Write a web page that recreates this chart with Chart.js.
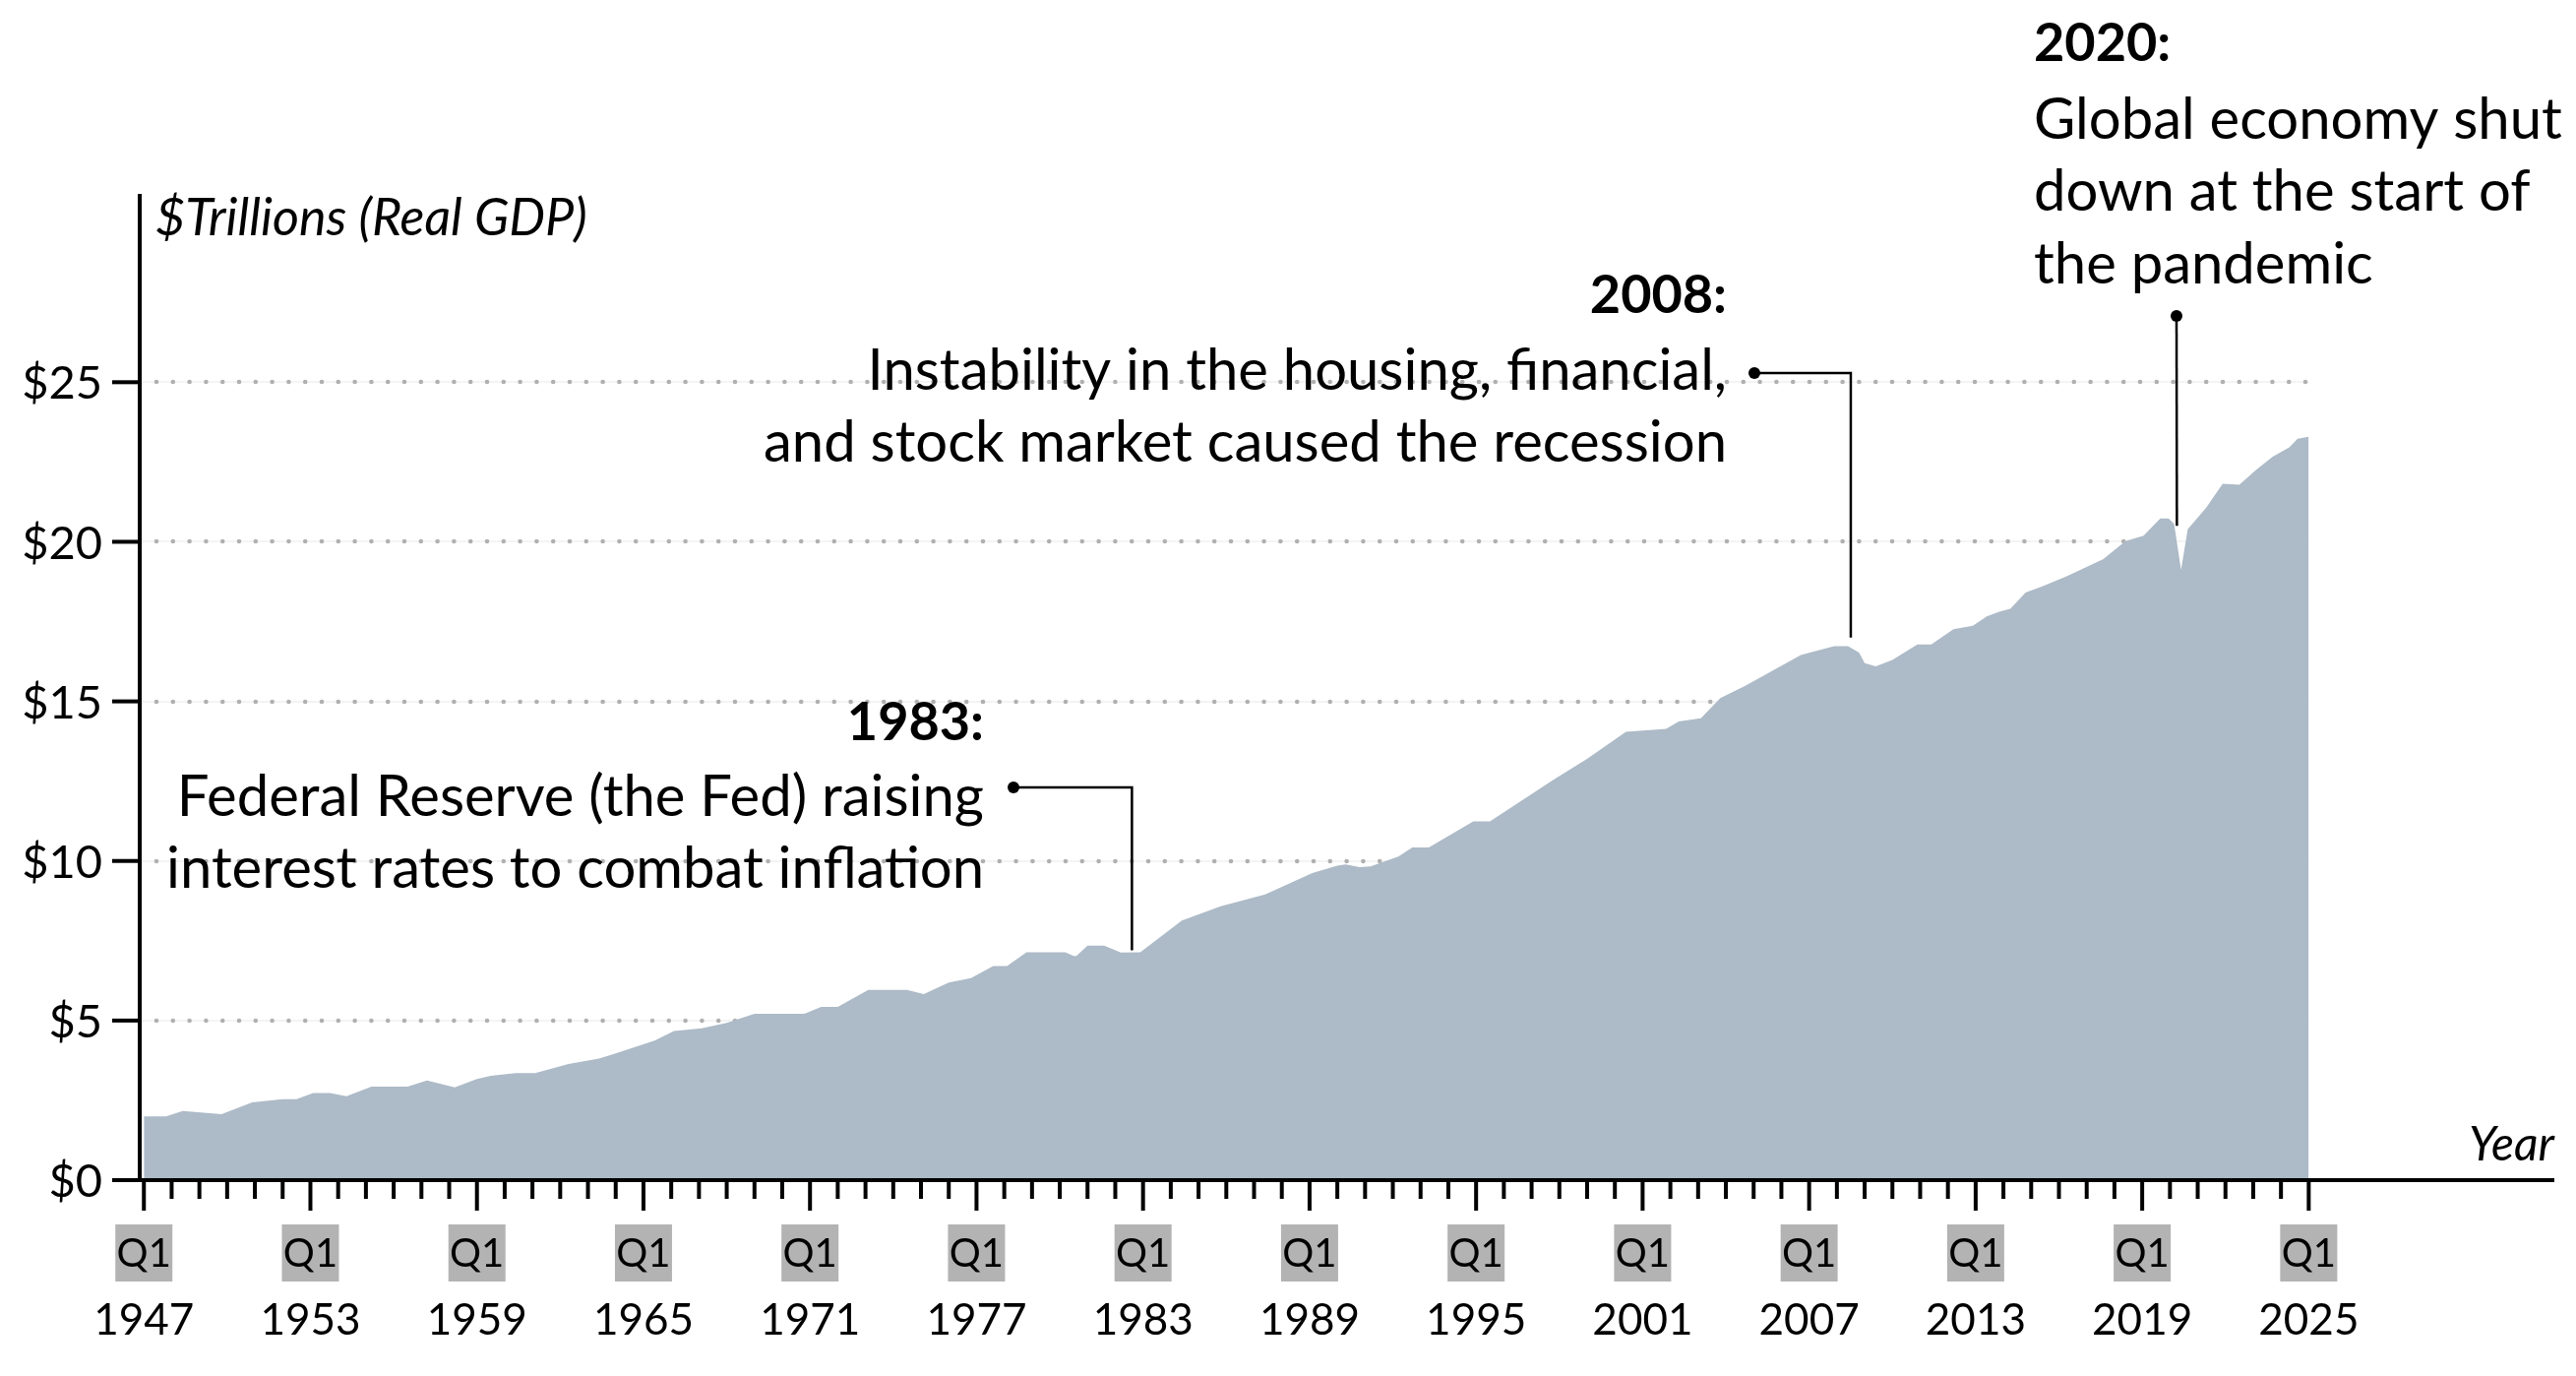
<!DOCTYPE html>
<html>
<head>
<meta charset="utf-8">
<script src="https://cdn.jsdelivr.net/npm/chart.js@4.4.1/dist/chart.umd.min.js"></script>
<style>
  body { margin: 0; background: #fff; }
  canvas { display: block; }
</style>
</head>
<body>
<canvas id="gdp" width="2618" height="1398" style="width:2618px;height:1398px"></canvas>
<script>
// Real GDP, $ trillions (decimal year -> value)
var years = [1947.0, 1947.8, 1948.4, 1949.8, 1950.9, 1952.0, 1952.5, 1953.1, 1953.7, 1954.3,
  1955.2, 1956.5, 1957.2, 1958.2, 1959.0, 1959.5, 1960.4, 1961.1, 1962.3, 1963.4,
  1964.0, 1965.4, 1966.1, 1967.1, 1968.0, 1969.0, 1970.8, 1971.4, 1972.0, 1973.1,
  1974.5, 1975.1, 1976.0, 1976.8, 1977.6, 1978.1, 1978.8, 1980.2, 1980.5, 1980.6,
  1981.0, 1981.6, 1982.2, 1982.9, 1984.4, 1985.8, 1987.4, 1989.1, 1990.0, 1990.3,
  1990.8, 1991.2, 1992.2, 1992.7, 1993.3, 1994.9, 1995.5, 1997.8, 1999.0, 2000.4,
  2001.85, 2002.3, 2003.1, 2003.8, 2004.7, 2006.7, 2007.9, 2008.4, 2008.8, 2009.0,
  2009.4, 2010.0, 2010.9, 2011.4, 2012.2, 2012.9, 2013.4, 2013.85, 2014.25, 2014.8,
  2015.4, 2016.3, 2017.6, 2018.4, 2019.05, 2019.65, 2019.95, 2020.15, 2020.4, 2020.64,
  2021.3, 2021.9, 2022.5, 2023.1, 2023.7, 2024.3, 2024.6, 2025.0];
var gdp = [2.00, 2.00, 2.17, 2.07, 2.44, 2.54, 2.54, 2.73, 2.73, 2.63,
  2.93, 2.93, 3.12, 2.91, 3.17, 3.27, 3.35, 3.35, 3.64, 3.81,
  3.97, 4.37, 4.67, 4.76, 4.93, 5.21, 5.21, 5.43, 5.43, 5.96,
  5.96, 5.83, 6.19, 6.33, 6.71, 6.71, 7.14, 7.14, 7.02, 7.02,
  7.35, 7.35, 7.13, 7.14, 8.13, 8.58, 8.95, 9.62, 9.85, 9.89,
  9.81, 9.83, 10.14, 10.42, 10.42, 11.24, 11.24, 12.55, 13.20, 14.05,
  14.14, 14.37, 14.47, 15.10, 15.49, 16.45, 16.73, 16.73, 16.53, 16.20,
  16.10, 16.30, 16.78, 16.78, 17.26, 17.37, 17.66, 17.81, 17.90, 18.41,
  18.60, 18.93, 19.46, 20.02, 20.19, 20.73, 20.73, 20.56, 19.12, 20.39,
  21.06, 21.82, 21.79, 22.25, 22.67, 22.96, 23.23, 23.29];

var yTicks = [0, 5, 10, 15, 20, 25];
var majorYears = [1947, 1953, 1959, 1965, 1971, 1977, 1983, 1989, 1995, 2001, 2007, 2013, 2019, 2025];
var quarterLabel = 'Q1';
var firstYear = 1947, lastYear = 2025;

var notes = [
  { head: '1983:', lines: ['Federal Reserve (the Fed) raising', 'interest rates to combat inflation'],
    year: 1982.6, value: 7.2 },
  { head: '2008:', lines: ['Instability in the housing, financial,', 'and stock market caused the recession'],
    year: 2008.5, value: 17.0 },
  { head: '2020:', lines: ['Global economy shut', 'down at the start of', 'the pandemic'],
    year: 2020.25, value: 20.5 }
];

var FONT = 'Lato, "Open Sans", sans-serif';

var decor = {
  id: 'decor',
  beforeDatasetsDraw: function(chart) {
    var ctx = chart.ctx, x = chart.scales.x, y = chart.scales.y;
    var left = chart.chartArea.left, right = x.getPixelForValue(lastYear);
    ctx.save();
    yTicks.forEach(function(v) {
      if (v === 0) return;
      var py = Math.round(y.getPixelForValue(v));
      ctx.strokeStyle = '#f1f1f1';
      ctx.lineWidth = 1.5;
      ctx.beginPath(); ctx.moveTo(left, py); ctx.lineTo(right, py); ctx.stroke();
      ctx.fillStyle = '#b0b0b0';
      for (var px = left + 17; px <= right; px += 16.8) {
        ctx.beginPath(); ctx.arc(px, py, 2.3, 0, Math.PI * 2); ctx.fill();
      }
    });
    ctx.restore();
  },
  afterDatasetsDraw: function(chart) {
    var ctx = chart.ctx, x = chart.scales.x, y = chart.scales.y, a = chart.chartArea;
    ctx.save();
    ctx.strokeStyle = '#000';
    ctx.fillStyle = '#000';
    ctx.lineWidth = 4;
    // axes
    ctx.beginPath();
    ctx.moveTo(a.left, a.top); ctx.lineTo(a.left, a.bottom + 2);
    ctx.moveTo(a.left - 2, a.bottom); ctx.lineTo(a.right, a.bottom);
    ctx.stroke();
    // y ticks + labels
    ctx.font = '47px ' + FONT;
    ctx.textAlign = 'right';
    ctx.textBaseline = 'middle';
    yTicks.forEach(function(v) {
      var py = y.getPixelForValue(v);
      ctx.beginPath(); ctx.moveTo(a.left - 28, py); ctx.lineTo(a.left, py); ctx.stroke();
      ctx.fillText('$' + v, a.left - 38, py + 2);
    });
    // x ticks
    for (var yr = firstYear; yr <= lastYear; yr++) {
      var px = x.getPixelForValue(yr);
      var major = majorYears.indexOf(yr) >= 0;
      ctx.beginPath(); ctx.moveTo(px, a.bottom); ctx.lineTo(px, a.bottom + (major ? 31 : 19)); ctx.stroke();
    }
    // Q1 boxes and year labels
    ctx.textAlign = 'center';
    majorYears.forEach(function(yr) {
      var px = x.getPixelForValue(yr);
      ctx.fillStyle = '#b3b3b3';
      ctx.fillRect(px - 29, 1244, 58, 58);
      ctx.fillStyle = '#000';
      ctx.font = '40px ' + FONT;
      ctx.fillText(quarterLabel, px, 1274);
      ctx.font = '44px ' + FONT;
      ctx.fillText(String(yr), px, 1342);
    });
    // axis titles
    ctx.font = 'italic 52px ' + FONT;
    ctx.textAlign = 'left';
    ctx.fillText('$Trillions (Real GDP)', a.left + 16, 222);
    ctx.textAlign = 'right';
    ctx.font = 'italic 48px ' + FONT;
    ctx.fillText('Year', a.right, 1164);

    // annotations
    var layout = [
      { align: 'right', tx: 1000, heads: 735, first: 810, dot: [1030, 800], elbow: true },
      { align: 'right', tx: 1755, heads: 301, first: 377, dot: [1783, 379], elbow: true },
      { align: 'left', tx: 2067, heads: 45, first: 122, dot: [2212, 321], elbow: false }
    ];
    notes.forEach(function(n, i) {
      var L = layout[i];
      ctx.textAlign = L.align;
      ctx.font = 'bold 54px ' + FONT;
      ctx.fillText(n.head, L.tx, L.heads);
      ctx.font = '58px ' + FONT;
      n.lines.forEach(function(t, j) { ctx.fillText(t, L.tx, L.first + j * 73.5); });
      var ex = x.getPixelForValue(n.year), ey = y.getPixelForValue(n.value);
      ctx.lineWidth = 2.5;
      ctx.beginPath();
      ctx.moveTo(L.dot[0], L.dot[1]);
      if (L.elbow) ctx.lineTo(ex, L.dot[1]);
      ctx.lineTo(ex, ey);
      ctx.stroke();
      ctx.beginPath(); ctx.arc(L.dot[0], L.dot[1], 6, 0, Math.PI * 2); ctx.fill();
    });
    ctx.restore();
  }
};

var points = years.map(function(yr, i) { return { x: yr, y: gdp[i] }; });

new Chart(document.getElementById('gdp').getContext('2d'), {
  type: 'line',
  data: {
    datasets: [{
      label: 'Real GDP',
      data: points,
      fill: 'origin',
      backgroundColor: '#adbac7',
      borderWidth: 0,
      pointRadius: 0,
      tension: 0
    }]
  },
  options: {
    responsive: false,
    devicePixelRatio: 1,
    animation: false,
    layout: { padding: { left: 142, right: 22, top: 197, bottom: 199 } },
    plugins: { legend: { display: false }, tooltip: { enabled: false } },
    scales: {
      x: { type: 'linear', min: 1946.85, max: 2033.85, display: false },
      y: { min: 0, max: 30.9, display: false }
    }
  },
  plugins: [decor]
});
</script>
</body>
</html>
